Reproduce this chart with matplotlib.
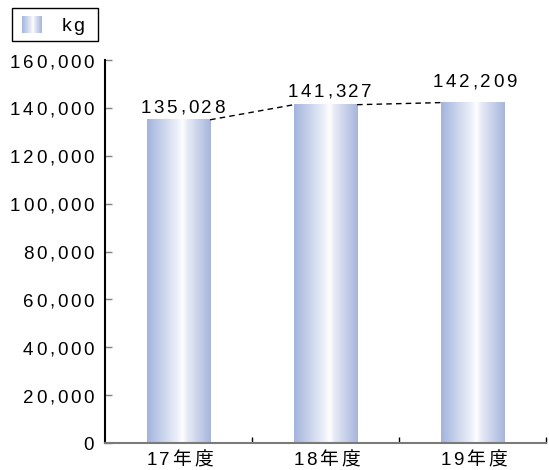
import numpy as np
import matplotlib
matplotlib.use("Agg")
import matplotlib.pyplot as plt
import matplotlib.font_manager as fm
from matplotlib.ft2font import FT2Font
from matplotlib.colors import LinearSegmentedColormap
from matplotlib.patches import Rectangle

# data
categories = ["17年度", "18年度", "19年度"]
values = [135028, 141327, 142209]
value_labels = ["135,028", "141,327", "142,209"]
y_ticks = [0, 20000, 40000, 60000, 80000, 100000, 120000, 140000, 160000]
y_tick_labels = ["0", "20,000", "40,000", "60,000", "80,000",
                 "100,000", "120,000", "140,000", "160,000"]
unit_label = "kg"

W, H, DPI = 549, 470, 100
FS = 13.5          # text size, pt
TRACK = 2.0        # extra letter spacing, pt
FAMILY = ["Liberation Sans", "Noto Sans CJK JP"]

latin_font = FT2Font(fm.findfont(fm.FontProperties(family="Liberation Sans")))
cjk_font = FT2Font(fm.findfont(fm.FontProperties(family="Noto Sans CJK JP")))
latin_map = latin_font.get_charmap()


def advance(ch, size):
    f = latin_font if ord(ch) in latin_map else cjk_font
    f.set_size(size, 72)
    g = f.load_char(ord(ch))
    return g.linearHoriAdvance / 65536.0


def spaced_text(ax, xy, s, coords, ha="center", dx=0.0, dy=0.0,
                size=FS, track=TRACK, color="black"):
    """Draw a string with letter spacing, one glyph at a time."""
    advs = [advance(c, size) for c in s]
    total = sum(advs) + track * (len(s) - 1)
    if ha == "center":
        start = -total / 2.0
    elif ha == "right":
        start = -total
    else:
        start = 0.0
    pos = start
    for c, a in zip(s, advs):
        ax.annotate(c, xy=xy, xycoords=coords, xytext=(pos + dx, dy),
                    textcoords="offset points", ha="left", va="baseline",
                    fontsize=size, family=FAMILY, color=color,
                    annotation_clip=False)
        pos += a + track


def px(v):
    return v * 72.0 / DPI


fig = plt.figure(figsize=(W / DPI, H / DPI), dpi=DPI)
left, right, top, bottom = 105, 546, 60, 443
ax = fig.add_axes([left / W, 1 - bottom / H, (right - left) / W, (bottom - top) / H])

# horizontal gradient used for the bars
grad_cmap = LinearSegmentedColormap.from_list(
    "bargrad",
    [(0.00, (163 / 255, 180 / 255, 220 / 255)),
     (0.48, (238 / 255, 241 / 255, 250 / 255)),
     (0.56, (1.0, 1.0, 1.0)),
     (0.63, (232 / 255, 235 / 255, 246 / 255)),
     (1.00, (166 / 255, 181 / 255, 220 / 255))])
grad = np.linspace(0, 1, 256).reshape(1, -1)

bar_w = 0.43
x = np.arange(len(categories))
for xi, v in zip(x, values):
    ax.imshow(grad, cmap=grad_cmap, aspect="auto", interpolation="bilinear",
              extent=(xi - bar_w / 2, xi + bar_w / 2, 0, v), zorder=2)

# dashed connectors between bar tops
for i in range(len(values) - 1):
    ax.plot([x[i] + bar_w / 2, x[i + 1] - bar_w / 2], [values[i], values[i + 1]],
            color="black", lw=1.0, linestyle=(0, (4, 3)), zorder=3)

ax.set_xlim(-0.5, len(categories) - 0.5)
ax.set_ylim(0, 160000)

for s in ["top", "right"]:
    ax.spines[s].set_visible(False)
ax.spines["left"].set_color("black")
ax.spines["left"].set_linewidth(1.5)
ax.spines["bottom"].set_color("#7a7a7a")
ax.spines["bottom"].set_linewidth(1.5)

ax.set_yticks(y_ticks)
ax.set_yticklabels([])
ax.tick_params(axis="y", direction="in", length=5, width=1, color="#808080")
ax.set_xticks(x)
ax.set_xticklabels([])
ax.tick_params(axis="x", which="major", length=0)
ax.set_xticks(np.arange(len(categories)) + 0.5, minor=True)
ax.tick_params(axis="x", which="minor", direction="in", length=4, width=1, color="black")

# y tick labels
for t, lab in zip(y_ticks, y_tick_labels):
    spaced_text(ax, (0, t), lab, ("axes fraction", "data"), ha="right",
                dx=px(-11), dy=px(-7.5))

# category labels
for xi, lab in zip(x, categories):
    spaced_text(ax, (xi, 0), lab, ("data", "axes fraction"), ha="center",
                dx=px(1), dy=px(-22))

# value labels
label_dy = [7, 8, 15.5]
label_dx = [4, 4, 2]
for xi, v, lab, ddy, ddx in zip(x, values, value_labels, label_dy, label_dx):
    spaced_text(ax, (xi, v), lab, "data", ha="center", dx=px(ddx), dy=px(ddy))

# unit box
fig.patches.append(Rectangle((12 / W, 1 - 41 / H), 86 / W, 33 / H,
                             transform=fig.transFigure, fill=False,
                             ec="black", lw=1))
key_ax = fig.add_axes([22 / W, 1 - 33 / H, 20 / W, 17 / H])
key_ax.imshow(grad, cmap=grad_cmap, aspect="auto", interpolation="bilinear")
key_ax.axis("off")
spaced_text(ax, (62, H - 31), unit_label, "figure pixels", ha="left",
            size=14, track=0.8)

fig.savefig("out.png", dpi=DPI)
